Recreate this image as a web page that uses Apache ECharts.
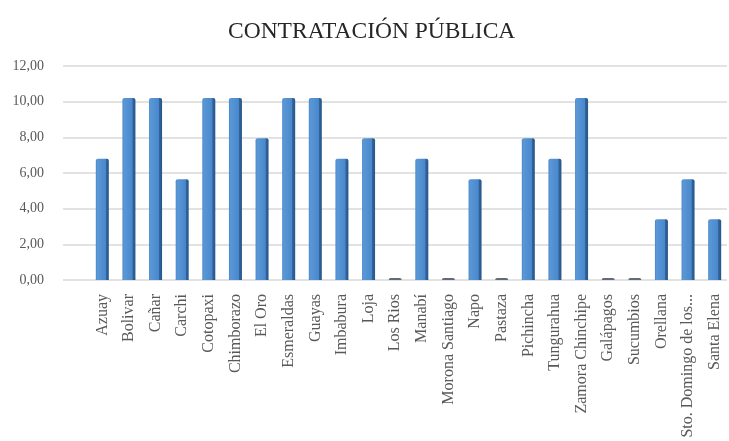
<!DOCTYPE html>
<html>
<head>
<meta charset="utf-8">
<script src="https://cdn.jsdelivr.net/npm/echarts@6/dist/echarts.min.js"></script>
<style>
  html, body { margin: 0; padding: 0; background: #ffffff; }
  #chart { width: 729px; height: 441px; }
</style>
</head>
<body>
<div id="chart"></div>
<script>
// Provincias y valor del indicador de contratación pública
const provincias = [
  'Azuay', 'Bolivar', 'Cañar', 'Carchi', 'Cotopaxi', 'Chimborazo', 'El Oro',
  'Esmeraldas', 'Guayas', 'Imbabura', 'Loja', 'Los Rios', 'Manabí',
  'Morona Santiago', 'Napo', 'Pastaza', 'Pichincha', 'Tungurahua',
  'Zamora Chinchipe', 'Galápagos', 'Sucumbios', 'Orellana',
  'Sto. Domingo de los...', 'Santa Elena'
];
const valores = [
  6.8, 10.2, 10.2, 5.65, 10.2, 10.2, 7.95,
  10.2, 10.2, 6.8, 7.95, 0, 6.8,
  0, 5.65, 0, 7.95, 6.8,
  10.2, 0, 0, 3.4,
  5.65, 3.4
];
const ticksY = [0, 2, 4, 6, 8, 10, 12];

const serif = '"Liberation Serif", "DejaVu Serif", serif';
const fmt = v => v.toFixed(2).replace('.', ',');

// Cara frontal de la barra con borde lateral oscuro (efecto 3D)
const barFill = new echarts.graphic.LinearGradient(0, 0, 1, 0, [
  { offset: 0, color: '#4a86c8' },
  { offset: 0.12, color: '#5a97d6' },
  { offset: 0.75, color: '#4a88cc' },
  { offset: 0.8, color: '#2f639c' },
  { offset: 1, color: '#285788' }
]);

const chart = echarts.init(document.getElementById('chart'));
chart.setOption({
  animation: false,
  backgroundColor: '#ffffff',
  title: {
    text: 'CONTRATACIÓN PÚBLICA',
    left: 223,
    top: 15,
    textStyle: { fontFamily: serif, fontSize: 23.5, fontWeight: 'normal', color: '#262626' }
  },
  grid: [
    // pared del fondo con las líneas de división
    { left: 63, right: 2, top: 66, bottom: 161, containLabel: false },
    // barras y categorías
    { left: 89, right: 1, top: 66, bottom: 161, containLabel: false }
  ],
  xAxis: [
    { gridIndex: 0, type: 'value', show: false, min: 0, max: 1 },
    {
      gridIndex: 1,
      type: 'category',
      data: provincias,
      axisLine: { show: false },
      axisTick: { show: false },
      axisLabel: {
        rotate: 90,
        interval: 0,
        margin: 14,
        fontFamily: serif,
        fontSize: 16,
        color: '#595959'
      }
    }
  ],
  yAxis: [
    {
      gridIndex: 0,
      type: 'value',
      min: ticksY[0],
      max: ticksY[ticksY.length - 1],
      interval: 2,
      axisLine: { show: false },
      axisTick: { show: false },
      axisLabel: {
        margin: 19,
        fontFamily: serif,
        fontSize: 14,
        color: '#595959',
        formatter: v => fmt(v)
      },
      splitLine: { lineStyle: { color: '#d9d9d9', width: 1.5 } }
    },
    {
      gridIndex: 1,
      type: 'value',
      min: ticksY[0],
      max: ticksY[ticksY.length - 1],
      interval: 2,
      show: false,
      splitLine: { show: false }
    }
  ],
  series: [{
    type: 'bar',
    xAxisIndex: 1,
    yAxisIndex: 1,
    data: valores.map(v => ({
      value: v,
      itemStyle: v === 0 ? { color: '#5f6b78' } : undefined
    })),
    barWidth: 13,
    barMinHeight: 2,
    itemStyle: {
      color: barFill,
      borderRadius: [2, 2, 0, 0]
    }
  }]
});
</script>
</body>
</html>
